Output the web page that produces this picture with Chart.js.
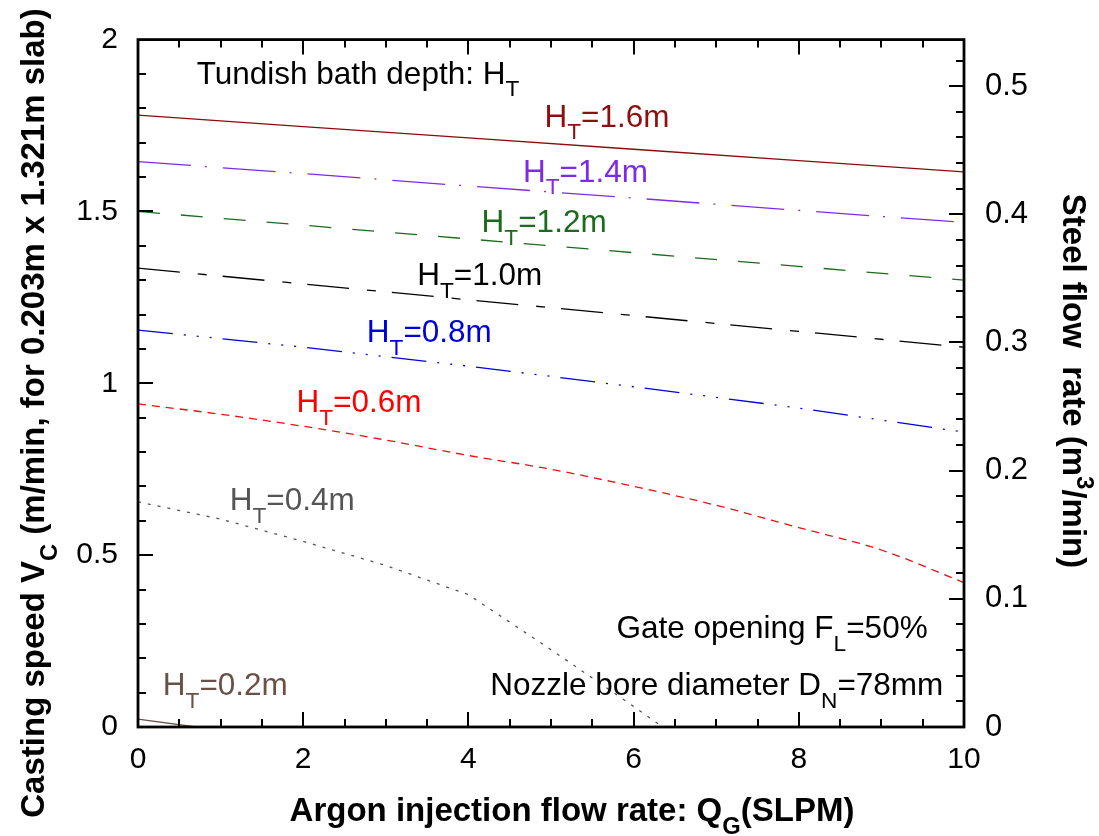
<!DOCTYPE html>
<html><head><meta charset="utf-8">
<script src="https://cdn.jsdelivr.net/npm/chart.js@4/dist/chart.umd.min.js"></script>
<style>html,body{margin:0;padding:0;background:#fff;overflow:hidden}</style>
</head><body>
<canvas id="c" width="1099" height="836"></canvas>
<script>
// ---------- data ----------
const argonFlow = [0, 2, 4, 6, 8, 10];
const vcH16 = [1.780, 1.747, 1.714, 1.681, 1.648, 1.615];
const vcH14 = [1.645, 1.610, 1.574, 1.539, 1.503, 1.468];
const vcH12 = [1.500, 1.460, 1.420, 1.380, 1.340, 1.300];
const vcH10 = [1.335, 1.289, 1.243, 1.197, 1.151, 1.105];
const vcH08 = [1.155, 1.105, 1.050, 0.990, 0.928, 0.858];
const argonFlowH06 = [0, 1, 2, 3, 4, 5, 6, 7, 8, 9, 10];
const vcH06 = [0.940, 0.910, 0.875, 0.835, 0.790, 0.750, 0.700, 0.645, 0.580, 0.515, 0.420];
const argonFlowH04 = [0, 1, 2, 3, 4, 5, 6, 6.35];
const vcH04 = [0.655, 0.605, 0.540, 0.470, 0.385, 0.225, 0.060, 0.000];
const argonFlowH02 = [0, 0.7];
const vcH02 = [0.023, 0.000];
const depthNames = ['1.6', '1.4', '1.2', '1.0', '0.8', '0.6', '0.4', '0.2'];
const xTickValues = [0, 2, 4, 6, 8, 10];
const leftTickValues = [0, 0.5, 1, 1.5, 2];
const rightTickValues = [0, 0.1, 0.2, 0.3, 0.4, 0.5];
const slabThickness = 0.203, slabWidth = 1.321;

// ---------- styles ----------
const FAM = '"Liberation Sans", Arial, Helvetica, sans-serif';
const seriesStyle = [
  {color:'#8B0A0A', dash:[]},
  {color:'#7F2BE5', dash:[53,14,2,16]},
  {color:'#1C6B1C', dash:[22,21]},
  {color:'#000000', dash:[42,18,9,16]},
  {color:'#0000DD', dash:[35,11,2,11,2,11,2,11]},
  {color:'#E81010', dash:[8,6]},
  {color:'#555555', dash:[3,7]},
  {color:'#6B5048', dash:[]}
];
const labelColors = ['#8B1010','#7F2BE5','#1C6B1C','#000000','#0000DD','#FF0000','#555555','#6B5048'];
// label anchors in data coordinates (left x, baseline y)
const labelAnchor = [[4.92,1.747],[4.66,1.587],[4.16,1.439],[3.38,1.285],[2.77,1.119],[1.92,0.916],[1.11,0.631],[0.30,0.093]];

function pts(xs, ys){ return xs.map((x,i)=>({x:x, y:ys[i]})); }
const seriesData = [
  pts(argonFlow, vcH16), pts(argonFlow, vcH14), pts(argonFlow, vcH12), pts(argonFlow, vcH10),
  pts(argonFlow, vcH08), pts(argonFlowH06, vcH06), pts(argonFlowH04, vcH04), pts(argonFlowH02, vcH02)
];

const datasets = seriesData.map((d,i)=>({
  label: 'H_T=' + depthNames[i] + 'm',
  data: d,
  borderColor: seriesStyle[i].color,
  borderDash: seriesStyle[i].dash,
  borderWidth: 1.3,
  pointRadius: 0,
  fill: false,
  tension: 0,
  cubicInterpolationMode: i === 5 ? 'monotone' : 'default',
  yAxisID: 'y'
}));

function rich(ctx, parts, x, y, size, bold, color, align){
  const f = s => (bold ? 'bold ' : '') + s + 'px ' + FAM;
  const sizes = parts.map(p => p[1] ? size*0.72 : size);
  const widths = parts.map((p,i)=>{ ctx.font = f(sizes[i]); return ctx.measureText(p[0]).width; });
  const total = widths.reduce((a,b)=>a+b,0);
  let cx = align === 'right' ? x - total : (align === 'center' ? x - total/2 : x);
  ctx.fillStyle = color; ctx.textAlign = 'left'; ctx.textBaseline = 'alphabetic';
  parts.forEach((p,i)=>{
    ctx.font = f(sizes[i]);
    const dy = p[1] === 1 ? size*0.40 : (p[1] === 2 ? -size*0.42 : 0);
    ctx.fillText(p[0], cx, y + dy);
    cx += widths[i];
  });
}

const decor = {
  id: 'decor',
  afterDraw(chart){
    const ctx = chart.ctx, a = chart.chartArea;
    const xs = chart.scales.x, ys = chart.scales.y, ys2 = chart.scales.y2;
    ctx.save();
    ctx.strokeStyle = '#000';
    // ticks
    ctx.lineWidth = 2;
    ctx.beginPath();
    for (let k = 0; k <= 20; k++){
      const v = k*0.5, px = Math.round(xs.getPixelForValue(v));
      const L = (k % 4 === 0) ? 15 : 8;
      ctx.moveTo(px, a.bottom); ctx.lineTo(px, a.bottom - L);
      ctx.moveTo(px, a.top); ctx.lineTo(px, a.top + L);
    }
    for (let k = 0; k <= 20; k++){
      const v = k*0.1, py = Math.round(ys.getPixelForValue(v));
      const L = (k % 5 === 0) ? 15 : 8;
      ctx.moveTo(a.left, py); ctx.lineTo(a.left + L, py);
    }
    for (let k = 0; k <= 26; k++){
      const v = k*0.02, py = Math.round(ys2.getPixelForValue(v));
      if (py < a.top) continue;
      const L = (k % 5 === 0) ? 15 : 8;
      ctx.moveTo(a.right, py); ctx.lineTo(a.right - L, py);
    }
    ctx.stroke();
    // frame
    ctx.lineWidth = 2.8;
    ctx.strokeRect(a.left, a.top, a.right - a.left, a.bottom - a.top);

    // series labels
    const LS = 31.5;
    depthNames.forEach((n,i)=>{
      const px = xs.getPixelForValue(labelAnchor[i][0]);
      const py = ys.getPixelForValue(labelAnchor[i][1]);
      rich(ctx, [['H',0],['T',1],['=' + n + 'm',0]], px, py, LS, false, labelColors[i], 'left');
    });
    rich(ctx, [['Tundish bath depth: H',0],['T',1]], xs.getPixelForValue(0.71), ys.getPixelForValue(1.872), LS, false, '#000', 'left');
    rich(ctx, [['Gate opening F',0],['L',1],['=50%',0]], xs.getPixelForValue(9.56), ys.getPixelForValue(0.259), LS, false, '#000', 'right');
    rich(ctx, [['Nozzle bore diameter D',0],['N',1],['=78mm',0]], xs.getPixelForValue(9.75), ys.getPixelForValue(0.093), LS, false, '#000', 'right');

    // axis titles
    rich(ctx, [['Argon injection flow rate: Q',0],['G',1],['(SLPM)',0]], (a.left + a.right)/2 + 21, 821, 33, true, '#000', 'center');
    ctx.save();
    ctx.translate(44, 413);
    ctx.rotate(-Math.PI/2);
    rich(ctx, [['Casting speed V',0],['C',1],[' (m/min, for 0.203m x 1.321m slab)',0]], 0, 0, 33, true, '#000', 'center');
    ctx.restore();
    ctx.save();
    ctx.translate(1063, 381);
    ctx.rotate(Math.PI/2);
    rich(ctx, [['Steel flow  rate (m',0],['3',2],['/min)',0]], 0, 0, 33, true, '#000', 'center');
    ctx.restore();
    ctx.restore();
  }
};

const tickFont = {family: FAM, size: 30};
new Chart(document.getElementById('c'), {
  type: 'line',
  data: { datasets: datasets },
  options: {
    responsive: false,
    animation: false,
    devicePixelRatio: 1,
    layout: { padding: 0 },
    plugins: { legend: {display:false}, tooltip: {enabled:false}, title: {display:false} },
    scales: {
      x: {
        type: 'linear', position: 'bottom', min: 0, max: 10,
        afterBuildTicks: s => { s.ticks = xTickValues.map(v=>({value:v})); },
        ticks: { font: tickFont, color: '#000', padding: 15, maxRotation: 0, autoSkip: false,
                 callback: v => String(v) },
        grid: { display: false, drawTicks: false },
        border: { display: false },
        afterFit: s => { s.height = 109; }
      },
      xTop: {
        type: 'linear', position: 'top', min: 0, max: 10,
        ticks: { display: false },
        grid: { display: false, drawTicks: false },
        border: { display: false },
        afterFit: s => { s.height = 39; }
      },
      y: {
        type: 'linear', position: 'left', min: 0, max: 2,
        afterBuildTicks: s => { s.ticks = leftTickValues.map(v=>({value:v})); },
        ticks: { font: tickFont, color: '#000', padding: 20, autoSkip: false,
                 callback: v => String(v) },
        grid: { display: false, drawTicks: false },
        border: { display: false },
        afterFit: s => { s.width = 138; }
      },
      y2: {
        type: 'linear', position: 'right', min: 0, max: 2*slabThickness*slabWidth,
        afterBuildTicks: s => { s.ticks = rightTickValues.map(v=>({value:v})); },
        ticks: { font: {family: FAM, size: 31}, color: '#000', padding: 21, autoSkip: false,
                 callback: v => String(Math.round(v*10)/10) },
        grid: { display: false, drawTicks: false },
        border: { display: false },
        afterFit: s => { s.width = 135; }
      }
    }
  },
  plugins: [decor]
});
</script>
</body></html>
